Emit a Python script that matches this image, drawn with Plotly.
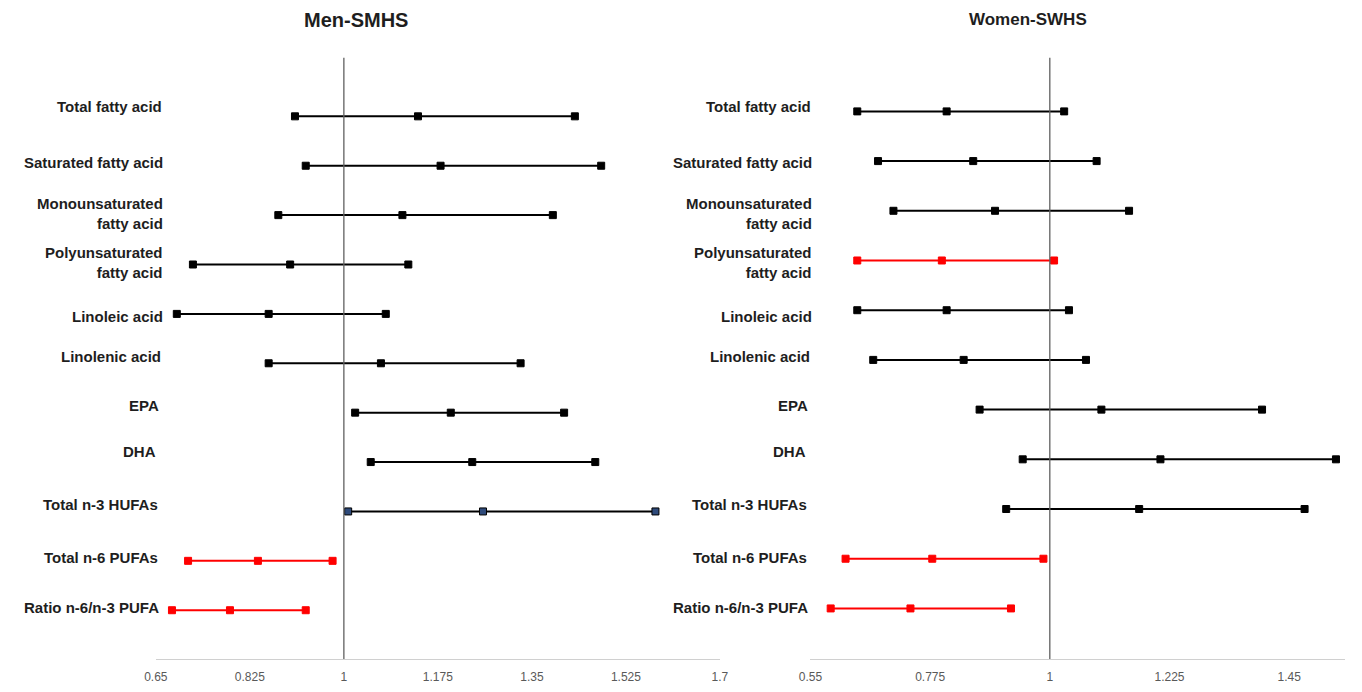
import plotly.graph_objects as go

W, H = 1362, 692          # browser window
PAGE_MARGIN = 8           # default <body> margin of the written page
FW, FH = W - 2 * PAGE_MARGIN, H - 2 * PAGE_MARGIN

categories = ["Total fatty acid", "Saturated fatty acid", "Monounsaturated<br>fatty acid",
              "Polyunsaturated<br>fatty acid", "Linoleic acid", "Linolenic acid", "EPA", "DHA",
              "Total n-3 HUFAs", "Total n-6 PUFAs", "Ratio n-6/n-3 PUFA"]

# Men-SMHS: lower CI, estimate, upper CI
men_low = [0.909, 0.929, 0.878, 0.719, 0.689, 0.860, 1.021, 1.050, 1.008, 0.710, 0.680]
men_est = [1.138, 1.180, 1.109, 0.900, 0.860, 1.069, 1.199, 1.239, 1.259, 0.840, 0.788]
men_up = [1.430, 1.479, 1.389, 1.120, 1.078, 1.329, 1.410, 1.468, 1.580, 0.979, 0.929]
men_sig = ["n", "n", "n", "n", "n", "n", "n", "n", "b", "r", "r"]

# Women-SWHS
women_low = [0.638, 0.677, 0.706, 0.638, 0.638, 0.668, 0.868, 0.949, 0.918, 0.616, 0.588]
women_est = [0.806, 0.856, 0.897, 0.797, 0.806, 0.838, 1.097, 1.208, 1.168, 0.779, 0.738]
women_up = [1.027, 1.088, 1.149, 1.008, 1.036, 1.068, 1.399, 1.538, 1.479, 0.988, 0.927]
women_sig = ["n", "n", "n", "r", "n", "n", "n", "n", "n", "r", "r"]

men_ticks = [0.65, 0.825, 1, 1.175, 1.35, 1.525, 1.7]
women_ticks = [0.55, 0.775, 1, 1.225, 1.45]
men_tick_text = ["0.65", "0.825", "1", "1.175", "1.35", "1.525", "1.7"]
women_tick_text = ["0.55", "0.775", "1", "1.225", "1.45"]

# ---- layout constants (window pixels) ----
LEFT_DOM = (146, 719)
RIGHT_DOM = (811, 1354)
PLOT_TOP, PLOT_BOT = 58, 663
LABEL_Y_PX = [107, 163, 214.5, 264.5, 318, 359, 408, 454, 507, 561, 611]
LABEL_RIGHT_PX = [154, 155, 155, 155, 155, 153, 151, 148, 150, 150, 151]
RIGHT_LABEL_OFFSET = 660


def px_x(px):
    return (px - PAGE_MARGIN) / FW


def px_y(py):
    return 1 - (py - PAGE_MARGIN) / FH


STYLE = {
    "n": dict(line="#000000", fill="#000000", outline="#000000"),
    "r": dict(line="#ff0000", fill="#ff0000", outline="#ff0000"),
    "b": dict(line="#000000", fill="#2e4a7a", outline="#000000"),
}

fig = go.Figure()


def add_rows(low, est, up, sig, xa, ya):
    for i in range(len(low)):
        s = STYLE[sig[i]]
        fig.add_trace(go.Scatter(
            x=[low[i], est[i], up[i]], y=[i, i, i], mode="lines+markers",
            line=dict(color=s["line"], width=2),
            marker=dict(symbol="square", size=7, color=s["fill"],
                        line=dict(color=s["outline"], width=1)),
            xaxis=xa, yaxis=ya, showlegend=False, hoverinfo="x"))


add_rows(men_low, men_est, men_up, men_sig, "x", "y")
add_rows(women_low, women_est, women_up, women_sig, "x2", "y2")

ydom = [px_y(PLOT_BOT), px_y(PLOT_TOP)]

axis_common = dict(showgrid=False, zeroline=False, showline=True, linecolor="#d0d0d0",
                   linewidth=1.2, ticks="outside", ticklen=6, tickcolor="rgba(0,0,0,0)",
                   tickfont=dict(family="Liberation Sans, Arial, sans-serif", size=12, color="#595959"))

fig.update_layout(
    width=FW, height=FH, margin=dict(l=0, r=0, t=0, b=0),
    paper_bgcolor="white", plot_bgcolor="white",
    xaxis=dict(domain=[px_x(LEFT_DOM[0]), px_x(LEFT_DOM[1])], range=[0.65, 1.7],
               tickvals=men_ticks, ticktext=men_tick_text, anchor="y", **axis_common),
    xaxis2=dict(domain=[px_x(RIGHT_DOM[0]), min(1.0, px_x(RIGHT_DOM[1]))], range=[0.55, 1.555],
                tickvals=women_ticks, ticktext=women_tick_text, anchor="y2", **axis_common),
    yaxis=dict(domain=ydom, range=[10.99, -1.187], visible=False, anchor="x"),
    yaxis2=dict(domain=ydom, range=[11.02, -1.08], visible=False, anchor="x2"),
)

for xr, yr in (("x", "y"), ("x2", "y2")):
    fig.add_shape(type="line", xref=xr, yref=f"{yr} domain", x0=1, x1=1, y0=0, y1=1,
                  line=dict(color="#606060", width=1.3))

label_font = dict(family="Liberation Sans, Arial, sans-serif", size=15, color="#1e1e1e")
for i, name in enumerate(categories):
    for off in (0, RIGHT_LABEL_OFFSET):
        fig.add_annotation(text=f"<b>{name}</b>", xref="paper", yref="paper",
                           x=px_x(LABEL_RIGHT_PX[i] + off), y=px_y(LABEL_Y_PX[i]),
                           xanchor="right", yanchor="middle", align="right",
                           showarrow=False, font=label_font)

for txt, cx, fs in (("Men-SMHS", 349, 20), ("Women-SWHS", 1032, 17)):
    fig.add_annotation(text=f"<b>{txt}</b>", xref="paper", yref="paper", x=px_x(cx), y=px_y(20),
                       xanchor="center", yanchor="middle", showarrow=False,
                       font=dict(family="Liberation Sans, Arial, sans-serif", size=fs, color="#1e1e1e"))

fig.write_html("out.html")
